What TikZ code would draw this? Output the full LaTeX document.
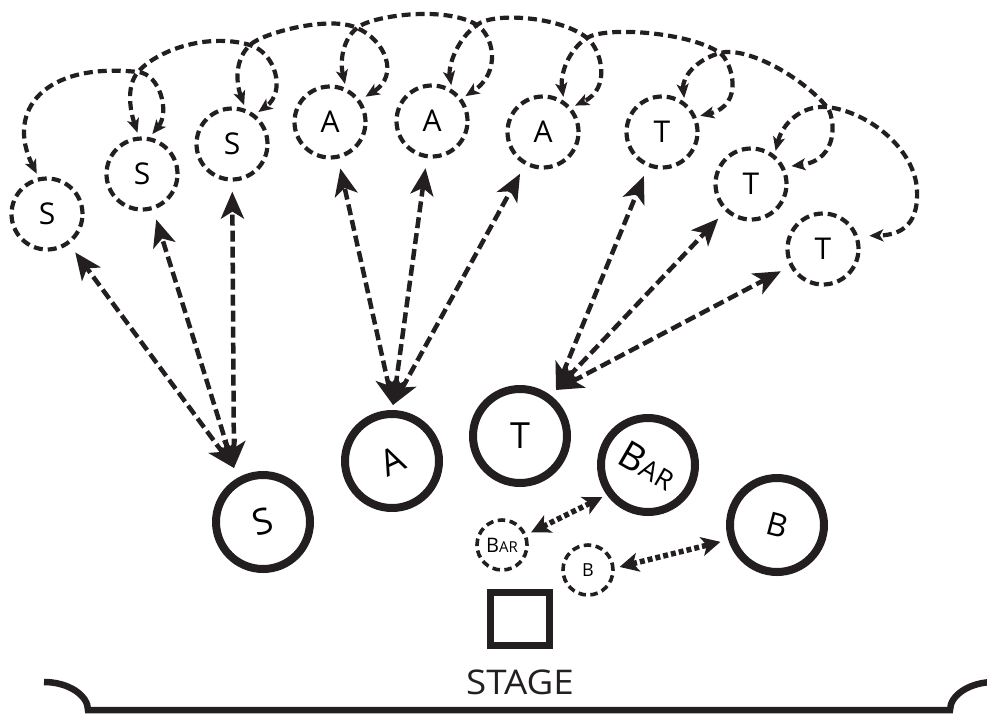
\documentclass[tikz,border=0pt]{standalone}
\usepackage{fontspec}
\usepackage{graphicx}
\setmainfont{Open Sans}
\usetikzlibrary{arrows.meta}
\definecolor{ink}{HTML}{231F20}
\begin{document}
\begin{tikzpicture}[x=1pt,y=-1pt,
  singer/.style={circle,draw=ink,line width=4.2pt,dash pattern=on 9pt off 5pt,
    minimum size=71pt,inner sep=0pt,font=\fontsize{30}{30}\selectfont},
  section/.style={circle,draw=ink,line width=8pt,minimum size=94pt,inner sep=0pt,
    font=\fontsize{36}{36}\selectfont},
  helper/.style={circle,draw=ink,line width=3.6pt,dash pattern=on 7.5pt off 4.5pt,
    minimum size=50pt,inner sep=0pt},
  passarrow/.style={draw=ink,line width=4.2pt,dash pattern=on 9pt off 5pt,
    >={Stealth[length=14pt,width=12pt,inset=3.5pt]},<->,shorten <=4pt,shorten >=4pt},
  longarrow/.style={draw=ink,line width=4.5pt,dash pattern=on 11pt off 5pt,
    >={Stealth[length=27pt,width=23pt,inset=7pt]},<->,shorten >=10pt},
  cuearrow/.style={draw=ink,line width=5.5pt,dash pattern=on 5pt off 3pt,
    >={Stealth[length=19pt,width=19pt,inset=5pt]},<->,shorten <=5pt,shorten >=5pt},
]
\useasboundingbox (0,0) rectangle (987,715);
\clip (0,0) rectangle (987,715);

% back row of singers
\node[singer] (s1) at (47,214) {S};
\node[singer] (s2) at (142,174) {S};
\node[singer] (s3) at (232,144) {S};
\node[singer] (a1) at (330,122) {A};
\node[singer] (a2) at (432,121) {A};
\node[singer] (a3) at (543,132) {A};
\node[singer] (t1) at (662,132) {T};
\node[singer] (t2) at (751,184) {T};
\node[singer] (t3) at (823,249) {T};

% section leaders
\node[section] (bigS) at (263,522) {\rotatebox{15}{S}};
\node[section] (bigA) at (392,461) {\rotatebox{25}{A}};
\node[section] (bigT) at (520,436) {T};
\node[section] (bigBar) at (648,465) {\rotatebox{-30}{\fontsize{38}{38}\selectfont B\fontsize{27}{27}\selectfont AR}};
\node[section] (bigB) at (777,525) {\rotatebox{-15}{\fontsize{32}{32}\selectfont B}};

% small helpers near the stage
\node[helper] (smallBar) at (502,545) {\fontsize{20}{20}\selectfont B\fontsize{15}{15}\selectfont AR};
\node[helper] (smallB) at (588,570) {\fontsize{18}{18}\selectfont B};

% stage
\node[draw=ink,line width=7.5pt,minimum width=59pt,minimum height=53pt,inner sep=0pt] (stage) at (520,619) {};
\node[font=\fontsize{34}{34}\selectfont,text=ink] (stagelabel) at (520,682) {\scalebox{1.08}[1]{STAGE}};

% front edge
\draw[ink,line width=6.5pt] (44,682) .. controls (68,682) and (88,695) .. (88,710)
  -- (950,710) .. controls (950,695) and (970,682) .. (994,682);

% crossing points of the passing loops
\coordinate (p2) at (138,72);
\coordinate (p3) at (250,45);
\coordinate (pa1) at (357,28);
\coordinate (pa2) at (477,25);
\coordinate (pa3) at (587,38);
\coordinate (pt1) at (720,53);
\coordinate (pt2) at (827,107);

% passing loops between neighbours
\draw[passarrow] (s1.103) .. controls (5,110) and (45,62) .. (p2)
  .. controls (160,74) and (170,112) .. (s2.78);
\draw[passarrow] (s2.95) .. controls (130,110) and (126,86) .. (p2)
  .. controls (155,52) and (205,32) .. (p3)
  .. controls (276,53) and (286,92) .. (s3.52);
\draw[passarrow,shorten >=6pt] (s3.69) .. controls (235,80) and (236,58) .. (p3)
  .. controls (262,33) and (330,15) .. (pa1)
  .. controls (385,40) and (400,75) .. (a1.36);
\draw[passarrow] (a1.65) .. controls (340,62) and (342,40) .. (pa1)
  .. controls (370,16) and (445,5) .. (pa2)
  .. controls (493,35) and (502,72) .. (a2.37);
\draw[passarrow] (a2.58) .. controls (448,65) and (458,38) .. (pa2)
  .. controls (492,12) and (560,16) .. (pa3)
  .. controls (601,49) and (612,88) .. (a3.41);
\draw[passarrow] (a3.56) .. controls (560,75) and (568,50) .. (pa3)
  .. controls (605,26) and (690,32) .. (pt1)
  .. controls (732,62) and (745,105) .. (t1.24);
\draw[passarrow,shorten >=7pt] (t1.53) .. controls (682,78) and (695,60) .. (pt1)
  .. controls (745,46) and (800,75) .. (pt2)
  .. controls (835,117) and (840,160) .. (t2.27);
\draw[passarrow,shorten >=11pt] (t2.51) .. controls (782,125) and (800,105) .. (pt2)
  .. controls (870,112) and (915,150) .. (917,190)
  .. controls (919,230) and (895,235) .. (t3.20);

% lines from each leader to the back row
\coordinate (sHub) at (234,468);
\coordinate (aHub) at (393,405);
\coordinate (tHub) at (556,390);
\foreach \n in {s1,s2,s3} \draw[longarrow] (sHub) -- (\n);
\foreach \n in {a1,a2,a3} \draw[longarrow] (aHub) -- (\n);
\foreach \n in {t1,t2,t3} \draw[longarrow] (tHub) -- (\n);

% cues between helpers and leaders
\draw[cuearrow] (smallBar.23) -- (bigBar.216);
\draw[cuearrow,shorten >=8pt] (smallB.4) -- (bigB.197);
\end{tikzpicture}
\end{document}
